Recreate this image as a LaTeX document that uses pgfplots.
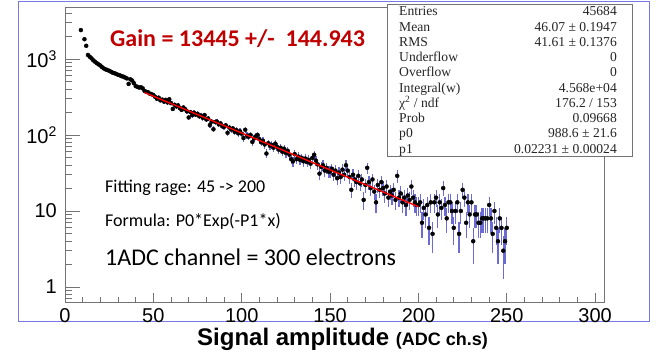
\documentclass[border=0pt]{standalone}
\usepackage{fontspec}
\setmainfont{Liberation Sans}
\newfontfamily\calibri{Carlito}
\newfontfamily\statfont{Liberation Serif}
\usepackage{pgfplots}
\usepackage{pgfplotstable}
\pgfplotsset{compat=1.18}

\definecolor{errblue}{RGB}{70,70,200}
\definecolor{gainred}{RGB}{192,0,0}
\definecolor{border}{RGB}{120,120,230}

\pgfplotstableread{
x y
9 2400
11 1820
12 1490
13 1130
14 1070
15 1020
16 960
17 920
18 880
19 850
20 820
21 780
22 750
23 730
24 715
25 700
26 680
27 660
28 650
29 635
30 620
31 610
32 595
33 585
34 570
35 555
36 470
37 540
38 520
39 480
40 440
41 430
42 420
43 425
44 410
45 380
46 370
47 365
48 350
49 345
50 335
51 318
52 300
53 310
54 285
55 292
56 275
57 290
58 268
59 295
60 262
61 220
62 250
63 238
64 245
65 225
66 214
67 230
68 218
69 205
70 170
71 200
72 182
73 196
74 185
75 190
76 176
77 180
78 168
79 183
80 160
81 165
82 135
83 150
84 119
85 148
86 150
87 138
88 142
89 130
90 128
91 134
92 107
93 125
94 118
95 122
96 110
97 116
98 105
99 112
100 104
101 91
102 117
103 98
104 95
105 100
106 81
107 90
108 96
109 100
110 88
111 80
112 84
113 75
114 57
115 78
116 72
117 74
118 68
119 77
120 70
121 64
122 68
123 60
124 66
125 58
126 62
127 55
128 48
129 45
130 56
131 48
132 52
133 47
134 50
135 45
136 49
137 44
138 47
139 42
140 50
141 55
142 46
143 41
144 31
145 38
146 40
147 34
148 37
149 33
150 33
151 36
152 30
153 34
154 27
155 32
156 28
157 35
158 30
159 40
160 34
161 28
162 19
163 30
164 26
165 24
166 29
167 23
168 26
169 14
170 22
171 37
172 24
173 20
174 26
175 18
176 13
177 22
178 19
179 24
180 20
181 17
182 21
183 15
184 18
185 16
186 19
187 14
188 29
189 15
190 17
191 13
192 15
193 12
194 16
195 14
196 21
197 15
198 13
199 12
200 12
201 13
202 7
203 11
204 9
205 12
206 6
207 13
208 5
209 13
210 15
211 9
212 13
213 11
214 20
215 12
216 8
217 13
218 13
219 10
220 6
221 10
222 13
223 5
224 10
225 19
226 15
227 7
228 13
229 9
230 13
231 4
232 9
233 9
234 7
235 7
236 8
237 8
238 8
239 8
240 12
241 8
242 5
243 10
244 6
245 4
246 8
247 6
248 3
249 4
250 6
}\histdata

\pgfplotsset{
  rootframe/.style={
    at={(65pt,56pt)}, anchor=south west,
    width=539pt, height=295pt, scale only axis,
    xmin=0, xmax=305, ymin=0.635, ymax=4830,
    tick align=inside, xtick pos=bottom, ytick pos=left,
    axis line style={black!55, line width=0.8pt},
    tick style={black!55, line width=0.8pt},
    /pgf/number format/assume math mode=true,
    tick label style={font=\fontsize{20}{22}\selectfont, black},
    xticklabel style={anchor=north, inner sep=0pt, yshift=-6pt},
    yticklabel style={anchor=east, inner sep=0pt, xshift=-8pt},
  },
}

\begin{document}
\begin{tikzpicture}[x=1pt,y=1pt]
\useasboundingbox (0,0) rectangle (665,358);
\draw[border, line width=1pt] (18,356) rectangle (649,36);

% x ticks (shorter, as ROOT scales them with the other axis)
\begin{axis}[ymode=log, rootframe,
  xtick={0,50,...,300}, minor x tick num=4,
  ytick=\empty,
  major tick length=9pt, minor tick length=5pt,
]
\end{axis}

\begin{axis}[ymode=log, rootframe,
  xtick=\empty,
  ytick={1,10,100,1000},
  yticklabels={1,10,10\textsuperscript{2},10\textsuperscript{3}},
  minor ytick={0.7,0.8,0.9,2,3,4,5,6,7,8,9,20,30,40,50,60,70,80,90,200,300,400,500,600,700,800,900,2000,3000,4000},
  major tick length=15pt, minor tick length=7pt,
]
\addplot[only marks, mark=*, mark size=2pt, black,
  error bars/.cd, y dir=both, y explicit, error mark=none,
  error bar style={errblue, line width=1.2pt, opacity=0.8}]
  table[x=x, y=y, y error expr={sqrt(\thisrow{y})}] {\histdata};
\end{axis}

% fit drawn over the points
\begin{axis}[ymode=log, rootframe, hide axis]
\addplot[red, line width=1.4pt] coordinates {(45,362) (200,11.4)};
\end{axis}

% stats box
\draw[black!55, line width=0.8pt, fill=white] (387,354) rectangle (632,202);
\begin{scope}[font=\statfont\fontsize{13.6}{14}\selectfont, text=black!85]
\foreach \lab/\val [count=\i from 0] in {
  {Entries}/{45684},
  {Mean}/{46.07 ± 0.1947},
  {RMS}/{41.61 ± 0.1376},
  {Underflow}/{0},
  {Overflow}/{0},
  {Integral(w)}/{4.568e+04},
  {χ\textsuperscript{2} / ndf}/{176.2 / 153},
  {Prob}/{0.09668},
  {p0}/{988.6 ± 21.6},
  {p1}/{0.02231 ± 0.00024}} {
  \node[anchor=base west, inner sep=0pt] at (399, 342-15.25*\i) {\lab};
  \node[anchor=base east, inner sep=0pt] at (617, 342-15.25*\i) {\val};
}
\end{scope}

\node[anchor=base west, inner sep=0pt, text=gainred, font=\calibri\bfseries\fontsize{24}{26}\selectfont] at (110,311) {Gain = 13445 +/-~~144.943};
\node[anchor=base west, inner sep=0pt, font=\calibri\fontsize{18}{20}\selectfont] at (105,165) {Fitting rage: 45 -> 200};
\node[anchor=base west, inner sep=0pt, font=\calibri\fontsize{18}{20}\selectfont] at (105,131.3) {Formula: P0*Exp(-P1*x)};
\node[anchor=base west, inner sep=0pt, font=\calibri\fontsize{24}{26}\selectfont] at (105,92) {1ADC channel = 300 electrons};
\node[anchor=base west, inner sep=0pt, font=\bfseries\fontsize{24}{26}\selectfont] at (197,12.3) {Signal amplitude {\fontsize{18}{20}\selectfont (ADC ch.s)}};
\end{tikzpicture}
\end{document}
